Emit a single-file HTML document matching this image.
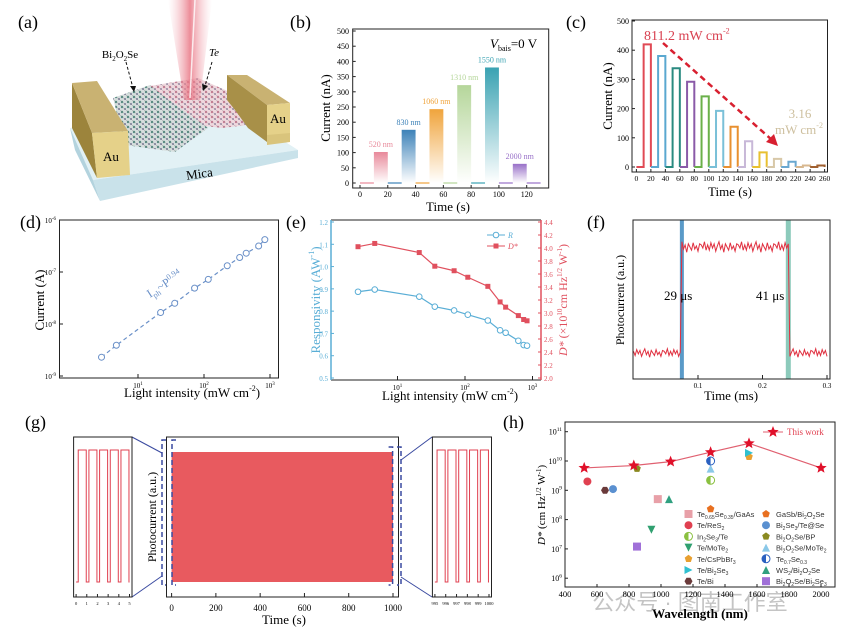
<!DOCTYPE html>
<html><head><meta charset="utf-8">
<style>
html,body{margin:0;padding:0;background:#fff;}
svg{display:block;font-family:"Liberation Serif",serif;}
.sans{font-family:"Liberation Sans","Noto Sans CJK SC",sans-serif;}
</style></head>
<body>
<svg id="fig" width="848" height="631" viewBox="0 0 848 631" xmlns="http://www.w3.org/2000/svg">
<defs>
<linearGradient id="beam" x1="0" y1="0" x2="1" y2="0">
<stop offset="0" stop-color="#f5c0c8" stop-opacity="0"/><stop offset="0.5" stop-color="#e8707f" stop-opacity="0.8"/><stop offset="1" stop-color="#f5c0c8" stop-opacity="0"/>
</linearGradient>
<pattern id="latG" width="6" height="5" patternUnits="userSpaceOnUse"><rect width="6" height="5" fill="#d6dedd"/><circle cx="2" cy="2" r="1.2" fill="#4f8a80"/><circle cx="5" cy="4" r="1" fill="#7a7a9a"/><line x1="0" y1="0" x2="6" y2="5" stroke="#888" stroke-width="0.4"/></pattern>
<pattern id="latP" width="6" height="5" patternUnits="userSpaceOnUse"><rect width="6" height="5" fill="#efd8de"/><circle cx="2" cy="2" r="1.2" fill="#c87890"/><circle cx="5" cy="4" r="1" fill="#9a8aa8"/><line x1="0" y1="0" x2="6" y2="5" stroke="#999" stroke-width="0.4"/></pattern>
</defs>

<g>
<text x="18" y="28" font-size="18">(a)</text>
<polygon points="70,128 232,108 298,150 93,180" fill="#e2f1f5"/>
<polygon points="93,180 298,150 298,158 100,201" fill="#c9e2ea"/>
<polygon points="70,128 93,180 100,201 75,150" fill="#b3d3de"/>
<text x="200" y="178" font-size="13" transform="rotate(-8 200 178)" text-anchor="middle">Mica</text>
<polygon points="113,98 150,85 208,128 175,152 125,145" fill="url(#latG)"/>
<polygon points="150,86 198,78 248,100 248,125 222,128 205,126" fill="url(#latP)"/>
<polygon points="168,0 212,0 200,100 184,100" fill="url(#beam)"/>
<line x1="195" y1="0" x2="190" y2="98" stroke="#fff" stroke-width="1.5" opacity="0.8"/>
<polygon points="72,83 92,133 97,178 72,128" fill="#9c843c"/>
<polygon points="72,83 97,81 128,131 92,133" fill="#c9b272"/>
<polygon points="92,133 128,131 130,175 97,178" fill="#e5d189"/>
<text x="111" y="161" font-size="13" text-anchor="middle">Au</text>
<polygon points="227,75 247,75 290,103 267,105" fill="#c9b272"/>
<polygon points="267,105 290,103 290,140 267,142" fill="#e5d189"/>
<polygon points="227,75 267,105 267,142 248,128 235,110 227,100" fill="#a89048"/>
<polygon points="267,135 290,133 290,142 267,145" fill="#d9c47c"/>
<text x="278" y="123" font-size="13" text-anchor="middle">Au</text>
<text x="120" y="58" font-size="11" text-anchor="middle">Bi<tspan font-size="7" dy="3">2</tspan><tspan dy="-3">O</tspan><tspan font-size="7" dy="3">2</tspan><tspan dy="-3">Se</tspan></text>
<line x1="126" y1="62" x2="133" y2="88" stroke="#111" stroke-dasharray="3,2"/>
<polygon points="130,86 136,86 134,92" fill="#111"/>
<text x="214" y="56" font-size="11" text-anchor="middle" font-style="italic">Te</text>
<line x1="212" y1="62" x2="205" y2="86" stroke="#111" stroke-dasharray="3,2"/>
<polygon points="202,84 208,86 203,91" fill="#111"/>
</g>

<text x="290" y="28" font-size="18">(b)</text>
<text x="566" y="28" font-size="18">(c)</text>
<text x="20" y="228" font-size="18">(d)</text>
<text x="286" y="228" font-size="18">(e)</text>
<text x="587" y="228" font-size="18">(f)</text>
<text x="25" y="428" font-size="18">(g)</text>
<text x="503" y="428" font-size="18">(h)</text>
<text x="690" y="610" font-size="22" fill="#c4c4c4" text-anchor="middle" class="sans">公众号 · 图南工作室</text>
</svg>

<script>
// ---------- DATA ----------
const bWaves=['520 nm','830 nm','1060 nm','1310 nm','1550 nm','2000 nm'];
const bStarts=[10,30,50,70,90,110];
const bCurrents=[102,175,243,322,380,63];
const bColors=['#e8899a','#3d82b8','#f0a43c','#b5d69a','#3aa2b2','#9870c8'];
const bYTicks=[0,50,100,150,200,250,300,350,400,450,500];
const bXTicks=[0,20,40,60,80,100,120];

const cStarts=[10,30,50,70,90,110,130,150,170,190,210,230,250];
const cPeaks=[420,380,338,292,242,192,138,88,50,28,18,5,5];
const cColors=['#e04a55','#5aa8d0','#2a8a80','#8a5aa8','#6ab04a','#7ac0d8','#e89030','#c8b8d8','#e8c030','#d8c8a8','#6aa8d0','#d8b890','#a06030'];
const cYTicks=[0,100,200,300,400,500];
const cXTicks=[0,20,40,60,80,100,120,140,160,180,200,220,240,260];

const dIntensity=[2.8,4.7,22,36,72,116,225,347,436,673,835];
const dCurrent=[2.3e-9,3.9e-9,1.66e-8,2.5e-8,4.9e-8,7.2e-8,1.32e-7,1.9e-7,2.3e-7,3.16e-7,4.2e-7];
const dYExp=[-6,-7,-8,-9];
const dXExp=[1,2,3];

const eIntensity=[2.6,4.6,21,35.7,69,110,218,331,400,617,740,830];
const eResp=[0.887,0.897,0.865,0.82,0.803,0.784,0.758,0.714,0.703,0.667,0.648,0.645];
const eDstar=[4.02,4.07,3.93,3.72,3.65,3.55,3.41,3.17,3.09,2.96,2.9,2.88];
const eLeftTicks=[0.5,0.6,0.7,0.8,0.9,1.0,1.1,1.2];
const eRightTicks=[2.0,2.2,2.4,2.6,2.8,3.0,3.2,3.4,3.6,3.8,4.0,4.2,4.4];

const fRise=0.075, fFall=0.24;
const fNoise=[0.02,-0.03,0.04,-0.01,0.03,-0.04,0.01,0.05,-0.02,0.02,-0.05,0.03,0.0,-0.03,0.04,-0.02,0.01,-0.04,0.03,0.02,-0.01,0.05,-0.03];
const fXTicks=[0.1,0.2,0.3];

const gMainTicks=[0,200,400,600,800,1000];
const gLeftPulses=[0,1,2,3,4];
const gRightPulses=[995,996,997,998,999];
const gLeftTicks=[0,1,2,3,4,5];
const gRightTicks=[995,996,997,998,999,1000];

const hWork=[520,830,1060,1310,1550,2000];
const hWorkD=[5.8e9,7e9,9.5e9,2e10,4e10,5.8e9];
const hRefNames=['Te0.65Se0.35/GaAs','Te/ReS2','In2Se3/Te','Te/MoTe2','Te/CsPbBr3','Te/Bi2Se3','Te/Bi','GaSb/Bi2O2Se','Bi2Se3/Te@Se','Bi2O2Se/BP','Bi2O2Se/MoTe2','Te0.7Se0.3','WS2/Bi2O2Se','Bi2O2Se/Bi2Se3'];
const hRefWave=[980,540,1310,940,1550,1550,650,1310,700,850,1310,1310,1050,850];
const hRefD=[5e8,2e9,2.2e9,4.5e7,1.4e10,1.9e10,1e9,2.3e8,1.1e9,5.5e9,5.5e9,1e10,5e8,1.2e7];
const hRefShape=['square','circle','half','down','pent','right','hex','pent','circle','pent','up','half','up','square'];
const hRefColor=['#e8a0a8','#e04050','#8ac040','#30a070','#e8a030','#30c0d0','#6a3a3a','#e87020','#5a90d0','#8a8a20','#8ac8e8','#2a60c0','#30a080','#a070d8'];
const hYExp=[6,7,8,9,10,11];
const hXTicks=[400,600,800,1000,1200,1400,1600,1800,2000];

// ---------- HELPERS ----------
const NS='http://www.w3.org/2000/svg';
const svg=document.getElementById('fig');
function mk(tag,attrs,parent,text){const e=document.createElementNS(NS,tag);for(const k in attrs)e.setAttribute(k,attrs[k]);if(text!==undefined)e.textContent=text;(parent||svg).appendChild(e);return e;}
function grp(parent){return mk('g',{},parent);}
function sup(t,base,exp,bs,es){mk('tspan',{'font-size':bs},t,base);mk('tspan',{'font-size':es,dy:-(bs*0.45)},t,exp);}
const L10=Math.log10;

// ---------- PANEL B ----------
(function(){
const g=grp();  
const X=t=>360+t*(166.7/120), Y=v=>183-v*(152/500);
bStarts.forEach((s,i)=>{
 const id='bg'+i;
 const lg=mk('linearGradient',{id:id,x1:0,y1:0,x2:0,y2:1},svg.querySelector('defs'));
 mk('stop',{offset:0,'stop-color':bColors[i]},lg); mk('stop',{offset:1,'stop-color':'#fff'},lg);
 const r=mk('rect',{x:X(s),y:Y(bCurrents[i]),width:X(s+10)-X(s),height:Y(0)-Y(bCurrents[i]),fill:'url(#'+id+')'},g);
 
 
 const base=mk('line',{x1:X(s-10),y1:Y(0),x2:X(s),y2:Y(0),stroke:bColors[i],'stroke-width':1.2},g);
 
 
 const t=mk('text',{x:X(s+5),y:Y(bCurrents[i])-5,'font-size':8,'text-anchor':'middle',fill:bColors[i]},g,bWaves[i]);
 
 
});
const bl=mk('line',{x1:X(120),y1:Y(0),x2:X(130),y2:Y(0),stroke:'#9870c8','stroke-width':1.2},g);


const box=mk('rect',{x:352.7,y:29,width:196,height:159,fill:'none',stroke:'#222','stroke-width':1},g);


bYTicks.forEach(v=>{
 mk('line',{x1:352.7,x2:355.7,y1:Y(v),y2:Y(v),stroke:'#222'},g);
 const t=mk('text',{x:349,y:Y(v)+3,'font-size':8,'text-anchor':'end'},g,v);
 
 
});
bXTicks.forEach(v=>{
 mk('line',{x1:X(v),x2:X(v),y1:188,y2:185,stroke:'#222'},g);
 const t=mk('text',{x:X(v),y:197,'font-size':8,'text-anchor':'middle'},g,v);
 
 
});
const yt=mk('text',{x:0,y:0,'font-size':13,'text-anchor':'middle',transform:'translate(330,108) rotate(-90)'},g,'Current (nA)');


const xt=mk('text',{x:448,y:211,'font-size':13,'text-anchor':'middle'},g,'Time (s)');


const vb=mk('text',{x:490,y:48,'font-size':13},g);


mk('tspan',{'font-style':'italic'},vb,'V'); mk('tspan',{'font-size':8,dy:3},vb,'bais'); mk('tspan',{dy:-3},vb,'=0 V');
})();

// ---------- PANEL C ----------
(function(){
const g=grp();  
const X=t=>636.4+t*(188.2/260), Y=v=>167-v*(146/500);
cStarts.forEach((s,i)=>{
 const p=cPeaks[i];
 const pts=[[s-10,0],[s,0],[s,p],[s+10,p],[s+10,0]].map(q=>X(q[0])+','+Y(q[1])).join(' ');
 const pl=mk('polyline',{points:pts,fill:'none',stroke:cColors[i],'stroke-width':2},g);
 
 
});
const box=mk('rect',{x:632,y:20,width:195.5,height:152,fill:'none',stroke:'#222'},g);


cYTicks.forEach(v=>{
 mk('line',{x1:632,x2:635,y1:Y(v),y2:Y(v),stroke:'#222'},g);
 const t=mk('text',{x:629,y:Y(v)+3,'font-size':8,'text-anchor':'end'},g,v);
 
 
});
cXTicks.forEach(v=>{
 mk('line',{x1:X(v),x2:X(v),y1:172,y2:169,stroke:'#222'},g);
 const t=mk('text',{x:X(v),y:181,'font-size':7.5,'text-anchor':'middle'},g,v);
 
 
});
const yt=mk('text',{x:0,y:0,'font-size':13,'text-anchor':'middle',transform:'translate(612,96) rotate(-90)'},g,'Current (nA)');


const xt=mk('text',{x:730,y:196,'font-size':13,'text-anchor':'middle'},g,'Time (s)');


const a1=mk('text',{x:644,y:40,'font-size':14,fill:'#d84050'},g);


sup(a1,'811.2 mW cm','-2',14,8);
const ar=mk('line',{x1:663,y1:43,x2:772,y2:140,stroke:'#d82030','stroke-width':2.5,'stroke-dasharray':'6,4'},g);


const ah=mk('polygon',{points:'778,146 766,142 774,134',fill:'#d82030'},g);


const a2=mk('text',{x:800,y:118,'font-size':13,fill:'#cdbf9e','text-anchor':'middle'},g,'3.16');


const a3=mk('text',{x:799,y:134,'font-size':13,fill:'#cdbf9e','text-anchor':'middle'},g);


sup(a3,'mW cm','-2',13,8);
})();

// ---------- PANEL D ----------
(function(){
const g=grp();  
const X=I=>72+L10(I)*66, Y=c=>220+(-6-L10(c))*52;
const pts=dIntensity.map((v,i)=>X(v)+','+Y(dCurrent[i])).join(' ');
const ln=mk('polyline',{points:pts,fill:'none',stroke:'#6a90c8','stroke-width':1.2,'stroke-dasharray':'4,3'},g);


dIntensity.forEach((v,i)=>{
 const c=mk('circle',{cx:X(v),cy:Y(dCurrent[i]),r:3,fill:'#fff',stroke:'#6a90c8','stroke-width':1},g);
 
 
});
const box=mk('rect',{x:59.5,y:220,width:219,height:158,fill:'none',stroke:'#222'},g);


dYExp.forEach(e=>{
 const y=Y(Math.pow(10,e));
 mk('line',{x1:59.5,x2:63,y1:y,y2:y,stroke:'#222'},g);
 const t=mk('text',{x:56,y:y+3,'font-size':7,'text-anchor':'end'},g);
 
 
 sup(t,'10',String(e),7,5);
});
dXExp.forEach(e=>{
 const x=X(Math.pow(10,e));
 mk('line',{x1:x,x2:x,y1:378,y2:374,stroke:'#222'},g);
 const t=mk('text',{x:x,y:388,'font-size':7,'text-anchor':'middle'},g);
 
 
 sup(t,'10',String(e),7,5);
});
const yt=mk('text',{x:0,y:0,'font-size':13,'text-anchor':'middle',transform:'translate(44,300) rotate(-90)'},g,'Current (A)');


const xt=mk('text',{x:0,y:0,'font-size':13,'text-anchor':'start',transform:'translate(124,397)'},g);


sup(xt,'Light intensity (mW cm','-2',13,8); mk('tspan',{'font-size':13,dy:6},xt,')');
const fit=mk('text',{x:0,y:0,'font-size':12,fill:'#6a90c8',transform:'translate(150,298) rotate(-33)'},g);


mk('tspan',{},fit,'I'); mk('tspan',{'font-size':8,dy:3},fit,'ph'); mk('tspan',{dy:-3},fit,'~P'); mk('tspan',{'font-size':8,dy:-5},fit,'0.94');
})();

// ---------- PANEL E ----------
(function(){
const g=grp();  
const X=I=>330+L10(I)*67.5, YL=r=>222+(1.2-r)/0.7*156, YR=d=>222+(4.4-d)/2.4*156;
const bl='#5aaed6', rd='#e0505e';
const rl=mk('polyline',{points:eIntensity.map((v,i)=>X(v)+','+YL(eResp[i])).join(' '),fill:'none',stroke:bl,'stroke-width':1.2},g);


const dl=mk('polyline',{points:eIntensity.map((v,i)=>X(v)+','+YR(eDstar[i])).join(' '),fill:'none',stroke:rd,'stroke-width':1.2},g);


eIntensity.forEach((v,i)=>{
 const c=mk('circle',{cx:X(v),cy:YL(eResp[i]),r:2.8,fill:'#fff',stroke:bl},g);
 
 
 const s=mk('rect',{x:X(v)-2.5,y:YR(eDstar[i])-2.5,width:5,height:5,fill:rd},g);
 
 
});
const top=mk('line',{x1:331,x2:541,y1:220,y2:220,stroke:'#222'},g);


const bot=mk('line',{x1:331,x2:541,y1:380,y2:380,stroke:'#222'},g);


const la=mk('line',{x1:331,x2:331,y1:220,y2:380,stroke:bl,'stroke-width':1.5},g);


const ra=mk('line',{x1:541,x2:541,y1:220,y2:380,stroke:rd,'stroke-width':1.5},g);


eLeftTicks.forEach(v=>{
 mk('line',{x1:331,x2:334,y1:YL(v),y2:YL(v),stroke:bl},g);
 const t=mk('text',{x:328,y:YL(v)+3,'font-size':7,'text-anchor':'end',fill:bl},g,v.toFixed(1));
 
 
});
eRightTicks.forEach(v=>{
 mk('line',{x1:538,x2:541,y1:YR(v),y2:YR(v),stroke:rd},g);
 const t=mk('text',{x:544,y:YR(v)+3,'font-size':7,fill:rd},g,v.toFixed(1));
 
 
});
[1,2,3].forEach(e=>{
 const x=X(Math.pow(10,e));
 mk('line',{x1:x,x2:x,y1:380,y2:376,stroke:'#222'},g);
 const t=mk('text',{x:x,y:390,'font-size':7,'text-anchor':'middle'},g);
 
 
 sup(t,'10',String(e),7,5);
});
const yl=mk('text',{x:0,y:0,'font-size':13,'text-anchor':'middle',fill:bl,transform:'translate(320,300) rotate(-90)'},g);


sup(yl,'Responsivity (AW','-1',13,8); mk('tspan',{dy:6},yl,')');
const yr=mk('text',{x:0,y:0,'font-size':12,'text-anchor':'middle',fill:rd,transform:'translate(567,300) rotate(-90)'},g);


mk('tspan',{'font-style':'italic'},yr,'D*'); mk('tspan',{},yr,' (×10'); mk('tspan',{'font-size':7,dy:-5},yr,'10'); mk('tspan',{dy:5},yr,'cm Hz'); mk('tspan',{'font-size':7,dy:-5},yr,'1/2'); mk('tspan',{dy:5},yr,' W'); mk('tspan',{'font-size':7,dy:-5},yr,'-1'); mk('tspan',{dy:5},yr,')');
const xt=mk('text',{x:0,y:0,'font-size':13,transform:'translate(382,400)'},g);


sup(xt,'Light intensity (mW cm','-2',13,8); mk('tspan',{dy:6},xt,')');
mk('line',{x1:487,x2:505,y1:235,y2:235,stroke:bl},g); mk('circle',{cx:496,cy:235,r:2.8,fill:'#fff',stroke:bl},g);
const l1=mk('text',{x:508,y:238,'font-size':8,fill:bl,'font-style':'italic'},g,'R');


mk('line',{x1:487,x2:505,y1:246,y2:246,stroke:rd},g); mk('rect',{x:493.5,y:243.5,width:5,height:5,fill:rd},g);
const l2=mk('text',{x:508,y:249,'font-size':8,fill:rd,'font-style':'italic'},g,'D*');


})();

// ---------- PANEL F ----------
(function(){
const g=grp();  
const X=t=>633.5+t*645, Y=v=>353-v*106;
const br=mk('rect',{x:X(fRise)-2,y:220,width:4,height:159,fill:'#5a9ac8'},g);


const bf=mk('rect',{x:X(fFall)-2.5,y:220,width:5,height:159,fill:'#8ccabb'},g);


const pts=[]; const n=120;
for(let i=0;i<=n;i++){const t=i*0.3/n; const on=(t>=fRise&&t<fFall)?1:0; const nz=fNoise[i%fNoise.length]*(on?1:0.8); pts.push(X(t)+','+Y(on+nz));}
const ln=mk('polyline',{points:pts.join(' '),fill:'none',stroke:'#e03040','stroke-width':1},g);


const box=mk('rect',{x:633,y:220,width:197,height:159,fill:'none',stroke:'#222'},g);


fXTicks.forEach(v=>{
 mk('line',{x1:X(v),x2:X(v),y1:379,y2:375,stroke:'#222'},g);
 const t=mk('text',{x:X(v),y:388,'font-size':7,'text-anchor':'middle'},g,v);
 
 
});
const t1=mk('text',{x:664,y:300,'font-size':13},g,'29 μs');


const t2=mk('text',{x:756,y:300,'font-size':13},g,'41 μs');


const yt=mk('text',{x:0,y:0,'font-size':12,'text-anchor':'middle',transform:'translate(624,300) rotate(-90)'},g,'Photocurrent (a.u.)');


const xt=mk('text',{x:731,y:400,'font-size':13,'text-anchor':'middle'},g,'Time (ms)');


})();

// ---------- PANEL G ----------
(function(){
const g=grp();  
const X=t=>171.6+t*0.2214; const red='#e85a5f';
const fill=mk('rect',{x:X(0),y:452,width:X(1000)-X(0),height:130,fill:red},g);


const box=mk('rect',{x:166.5,y:437,width:232,height:160,fill:'none',stroke:'#222'},g);


gMainTicks.forEach(v=>{
 mk('line',{x1:X(v),x2:X(v),y1:597,y2:593,stroke:'#222'},g);
 const t=mk('text',{x:X(v),y:611,'font-size':9,'text-anchor':'middle'},g,v);
 
 
});
[162,172].forEach((x,i)=>{
 const d=mk('path',{d:`M${x+4},440 H${x} V585 H${x+4}`,fill:'none',stroke:'#3a4aa0','stroke-width':1.5,'stroke-dasharray':'5,3'},g);
 
 
});
[392.6,401].forEach(x=>{
 const d=mk('path',{d:`M${x-4},447 H${x} V585 H${x-4}`,fill:'none',stroke:'#3a4aa0','stroke-width':1.5,'stroke-dasharray':'5,3'},g);
 
 
});
[[132,437,162,453],[132,597,162,576],[401,460,432,437],[401,577,432,597]].forEach(c=>{
 const l=mk('line',{x1:c[0],y1:c[1],x2:c[2],y2:c[3],stroke:'#3a4aa0','stroke-width':1},g);
 
 
});
function inset(x0,x1,t0,pulses,ticks,name){
 const ig=grp(g);  
 const XI=t=>x0+2.5+(t-t0)*((x1-x0-5)/5);
 let d=`M${XI(t0)},582`;
 pulses.forEach(p=>{d+=` H${XI(p+0.2)} V450 H${XI(p+0.95)} V582`;});
 d+=` H${XI(t0+5)}`;
 const w=mk('path',{d:d,fill:'none',stroke:'#e04050','stroke-width':1},ig);
 
 
 const b=mk('rect',{x:x0,y:437,width:x1-x0,height:160,fill:'none',stroke:'#222'},ig);
 
 
 ticks.forEach(v=>{
  mk('line',{x1:XI(v),x2:XI(v),y1:597,y2:594,stroke:'#222'},ig);
  const t=mk('text',{x:XI(v),y:605,'font-size':4.5,'text-anchor':'middle'},ig,v);
  
  
 });
}
inset(73.6,132,0,gLeftPulses,gLeftTicks,'left-inset');
inset(432.4,491.5,995,gRightPulses,gRightTicks,'right-inset');
const yt=mk('text',{x:0,y:0,'font-size':12,'text-anchor':'middle',transform:'translate(156,517) rotate(-90)'},g,'Photocurrent (a.u.)');


const xt=mk('text',{x:284,y:624,'font-size':13,'text-anchor':'middle'},g,'Time (s)');


})();

// ---------- PANEL H ----------
(function(){
const g=grp();  
const X=w=>565+(w-400)*0.16, Y=d=>431.7+(11-L10(d))*29.3;
function marker(shape,x,y,col,parent){
 const r=4; let e;
 if(shape==='square') e=mk('rect',{x:x-r,y:y-r,width:2*r,height:2*r,fill:col},parent);
 else if(shape==='circle') e=mk('circle',{cx:x,cy:y,r:r,fill:col},parent);
 else if(shape==='half'){e=mk('circle',{cx:x,cy:y,r:r,fill:'#fff',stroke:col},parent);mk('path',{d:`M${x},${y-r} A${r},${r} 0 0,0 ${x},${y+r} Z`,fill:col},parent);}
 else if(shape==='down') e=mk('polygon',{points:`${x-r},${y-r} ${x+r},${y-r} ${x},${y+r}`,fill:col},parent);
 else if(shape==='up') e=mk('polygon',{points:`${x-r},${y+r} ${x+r},${y+r} ${x},${y-r}`,fill:col},parent);
 else if(shape==='right') e=mk('polygon',{points:`${x-r},${y-r} ${x-r},${y+r} ${x+r},${y}`,fill:col},parent);
 else if(shape==='pent'){let p=[];for(let k=0;k<5;k++){const a=-Math.PI/2+k*2*Math.PI/5;p.push((x+r*Math.cos(a))+','+(y+r*Math.sin(a)));}e=mk('polygon',{points:p.join(' '),fill:col},parent);}
 else {let p=[];for(let k=0;k<6;k++){const a=k*Math.PI/3;p.push((x+r*Math.cos(a))+','+(y+r*Math.sin(a)));}e=mk('polygon',{points:p.join(' '),fill:col},parent);}
 return e;
}
hRefWave.forEach((w,i)=>{
 const m=marker(hRefShape[i],X(w),Y(hRefD[i]),hRefColor[i],g);
 
 
});
const wl=mk('polyline',{points:hWork.map((w,i)=>X(w)+','+Y(hWorkD[i])).join(' '),fill:'none',stroke:'#e06070','stroke-width':1.2},g);


function star(x,y,col,parent){let p=[];for(let k=0;k<10;k++){const a=-Math.PI/2+k*Math.PI/5;const rr=k%2?2.6:6;p.push((x+rr*Math.cos(a))+','+(y+rr*Math.sin(a)));}return mk('polygon',{points:p.join(' '),fill:col},parent);}
hWork.forEach((w,i)=>{
 const s=star(X(w),Y(hWorkD[i]),'#e0102a',g);
 
 
});
const box=mk('rect',{x:565,y:422,width:270,height:165,fill:'none',stroke:'#222'},g);


hYExp.forEach(e=>{
 const y=Y(Math.pow(10,e));
 mk('line',{x1:565,x2:568,y1:y,y2:y,stroke:'#222'},g);
 const t=mk('text',{x:562,y:y+3,'font-size':8,'text-anchor':'end'},g);
 
 
 sup(t,'10',String(e),8,5.5);
});
hXTicks.forEach(v=>{
 mk('line',{x1:X(v),x2:X(v),y1:587,y2:584,stroke:'#222'},g);
 const t=mk('text',{x:X(v),y:597,'font-size':8.5,'text-anchor':'middle'},g,v);
 
 
});
const yt=mk('text',{x:0,y:0,'font-size':11,'text-anchor':'middle',transform:'translate(545,505) rotate(-90)'},g);


mk('tspan',{'font-style':'italic'},yt,'D*'); mk('tspan',{},yt,' (cm Hz'); mk('tspan',{'font-size':7,dy:-4},yt,'1/2'); mk('tspan',{dy:4},yt,' W'); mk('tspan',{'font-size':7,dy:-4},yt,'-1'); mk('tspan',{dy:4},yt,')');
const xt=mk('text',{x:700,y:618,'font-size':13,'text-anchor':'middle','font-weight':'bold'},g,'Wavelength (nm)');


mk('line',{x1:763,x2:783,y1:432,y2:432,stroke:'#e06070'},g); star(773,432,'#e0102a',g);
const lw=mk('text',{x:787,y:435,'font-size':9,fill:'#e04050'},g,'This work');


hRefNames.forEach((nm,i)=>{
 const col=i<7?0:1, row=i%7;
 const mx=col?766:688.5, tx=col?776:697, y=514+row*11.2;
 marker(hRefShape[i],mx,y,hRefColor[i],g);
 const t=mk('text',{x:tx,y:y+3,'font-size':7.5,class:'sans',fill:'#333'},g);
 
 
 let parts=nm.match(/[A-Za-z@\/]+|[0-9.]+/g);
 let off=0;
 parts.forEach(p=>{
  if(/^[0-9.]+$/.test(p)){mk('tspan',{'font-size':5,dy:2-off},t,p);off=2;}
  else {mk('tspan',{'font-size':7.5,dy:-off},t,p);off=0;}
 });
});
})();
</script>
</body></html>
